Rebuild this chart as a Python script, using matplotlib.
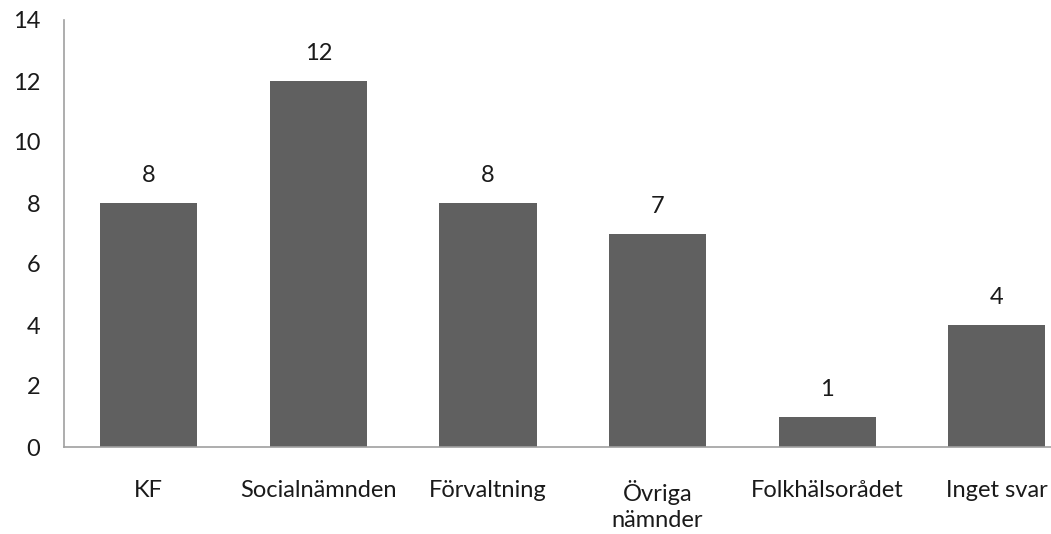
import matplotlib.pyplot as plt

kategorier = ['KF', 'Socialnämnden', 'Förvaltning', 'Övriga\nnämnder', 'Folkhälsorådet', 'Inget svar']
antal = [8, 12, 8, 7, 1, 4]
yticks = [0, 2, 4, 6, 8, 10, 12, 14]

plt.rcParams['font.family'] = ['Lato', 'DejaVu Sans']

fig = plt.figure(figsize=(10.51, 5.34), dpi=100)
ax = fig.add_axes([64 / 1051, 87 / 534, 1017.6 / 1051, 427 / 534])

x = range(len(kategorier))
staplar = ax.bar(x, antal, width=0.572, color='#606060')
for s, v in zip(staplar, antal):
    ax.annotate(str(v), (s.get_x() + s.get_width() / 2, v), xytext=(0, 27),
                textcoords='offset pixels', ha='center', va='center',
                fontsize=17, color='#1a1a1a')

ax.set_xlim(-0.5, len(kategorier) - 0.5)
ax.set_ylim(0, 14)
ax.set_yticks(yticks)
ax.set_xticks(list(x))
ax.set_xticklabels(kategorier, fontsize=17, color='#1a1a1a', va='top', linespacing=1.27)
ax.tick_params(axis='y', length=0, pad=17, labelsize=17, labelcolor='#1a1a1a')
ax.tick_params(axis='x', length=0, pad=24)

for side in ['top', 'right']:
    ax.spines[side].set_visible(False)
for side in ['left', 'bottom']:
    ax.spines[side].set_color('#a0a0a0')
    ax.spines[side].set_linewidth(1.2)

fig.savefig('out.png', dpi=100)
